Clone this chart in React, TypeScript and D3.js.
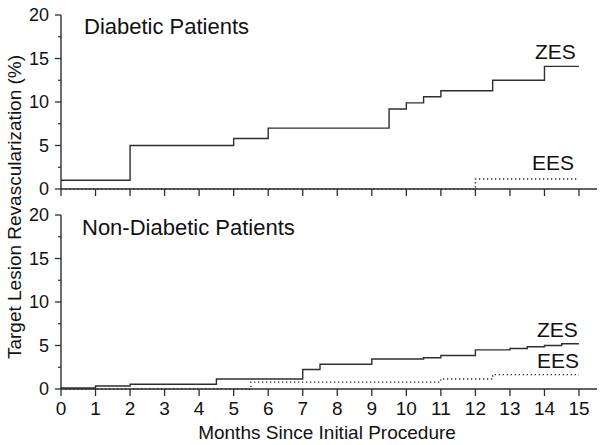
import React from "react";
import * as d3 from "d3";

// Data: [month, cumulative %] step points (step-after)
const diabeticZES: [number, number][] = [
  [0, 1.0], [2, 5.0], [5, 5.8], [6, 7.0], [9.5, 9.2], [10, 9.9], [10.5, 10.6],
  [11, 11.3], [12.5, 12.5], [14, 14.1], [15, 14.1],
];
const diabeticEES: [number, number][] = [
  [0, 0], [12, 1.15], [15, 1.15],
];
const nonDiabeticZES: [number, number][] = [
  [0, 0.12], [1, 0.35], [2, 0.55], [4.5, 1.15], [7, 2.25], [7.5, 2.85], [9, 3.45],
  [10.5, 3.6], [11, 3.85], [12, 4.5], [13, 4.65], [13.5, 4.85], [14, 5.0],
  [14.5, 5.2], [15, 5.2],
];
const nonDiabeticEES: [number, number][] = [
  [0, 0], [5.5, 0.8], [11, 1.15], [12.5, 1.65], [15, 1.65],
];
const xTicks = d3.range(0, 16);
const yTicks = [0, 5, 10, 15, 20];
const yMinorTicks = [2.5, 7.5, 12.5, 17.5];

const panels = [
  { title: "Diabetic Patients", zes: diabeticZES, ees: diabeticEES, top: 15, showX: false,
    titlePos: [84, 34], zesLbl: [535, 59], eesLbl: [532, 170] },
  { title: "Non-Diabetic Patients", zes: nonDiabeticZES, ees: nonDiabeticEES, top: 215, showX: true,
    titlePos: [82, 235], zesLbl: [537, 337], eesLbl: [537, 368] },
];

const W = 600, H = 445;
const left = 61, right = 579, axisEnd = 597, panelH = 174;
const font = "'Liberation Sans', Arial, sans-serif";
const col = "#2e2e2e";

export default function App() {
  const x = d3.scaleLinear().domain([0, 15]).range([left, right]);
  return (
    <svg width={W} height={H} style={{ position: "absolute", left: 0, top: 0, background: "#fff" }}
      fontFamily={font}>
      {panels.map((p, i) => {
        const y = d3.scaleLinear().domain([0, 20]).range([p.top + panelH, p.top]);
        const line = d3.line<[number, number]>().x(d => x(d[0])).y(d => y(d[1])).curve(d3.curveStepAfter);
        const y0 = y(0);
        return (
          <g key={i}>
            {/* lines */}
            <path d={line(p.ees) || ""} fill="none" stroke={col} strokeWidth={1.3} strokeDasharray="1.3 2.7" />
            <path d={line(p.zes) || ""} fill="none" stroke={col} strokeWidth={1.4} />
            {/* y axis */}
            <line x1={left} x2={left} y1={y(20)} y2={y0} stroke={col} strokeWidth={1.4} />
            {yTicks.map(t => (
              <g key={t}>
                <line x1={left - 6} x2={left} y1={y(t)} y2={y(t)} stroke={col} strokeWidth={1.3} />
                <text x={49} y={y(t)} dy="0.36em" textAnchor="end" fontSize={18} fill="#111">{t}</text>
              </g>
            ))}
            {yMinorTicks.map(t => (
              <line key={t} x1={left - 3} x2={left} y1={y(t)} y2={y(t)} stroke={col} strokeWidth={1.2} />
            ))}
            {/* x axis */}
            <line x1={left} x2={axisEnd} y1={y0} y2={y0} stroke={col} strokeWidth={1.5} />
            {xTicks.map(t => (
              <g key={t}>
                <line x1={x(t)} x2={x(t)} y1={y0} y2={y0 + 7} stroke={col} strokeWidth={1.3} />
                {p.showX && (
                  <text x={x(t)} y={y0 + 26} textAnchor="middle" fontSize={19} fill="#111">{t}</text>
                )}
              </g>
            ))}
            <text x={p.titlePos[0]} y={p.titlePos[1]} fontSize={22} fill="#111">{p.title}</text>
            <text x={p.zesLbl[0]} y={p.zesLbl[1]} fontSize={21} fill="#111">ZES</text>
            <text x={p.eesLbl[0]} y={p.eesLbl[1]} fontSize={21} fill="#111">EES</text>
          </g>
        );
      })}
      <text x={327} y={439} textAnchor="middle" fontSize={19} fill="#111">Months Since Initial Procedure</text>
      <text transform="translate(21,207) rotate(-90)" textAnchor="middle" fontSize={19} fill="#111">
        Target Lesion Revascularization (%)
      </text>
    </svg>
  );
}
